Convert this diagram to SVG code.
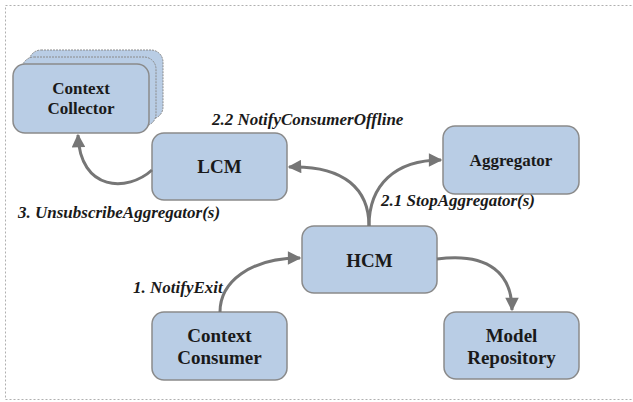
<svg xmlns="http://www.w3.org/2000/svg" width="633" height="402" viewBox="0 0 633 402">
<defs>
<style>
.box{fill:#b9cde5;stroke:#8a8a8a;stroke-width:1.5}
.back{fill:#b9cde5;stroke:#8a8a8a;stroke-width:1;stroke-dasharray:2 1}
.t{font-family:"Liberation Serif","Times New Roman",serif;font-weight:bold;fill:#1a1a1a;text-anchor:middle}
.lbl{font-family:"Liberation Serif","Times New Roman",serif;font-weight:bold;font-style:italic;font-size:17px;fill:#1a1a1a}
.c{fill:none;stroke:#767676;stroke-width:3}
</style>
<marker id="ah" viewBox="0 0 10 10" refX="9" refY="5" markerWidth="5" markerHeight="4.5" orient="auto" markerUnits="strokeWidth">
<path d="M0,0 L10,5 L0,10 z" fill="#767676"/>
</marker>
</defs>
<rect x="0" y="0" width="633" height="402" fill="#ffffff"/>
<rect x="5.5" y="5.5" width="640" height="394" fill="none" stroke="#b0b0b0" stroke-width="1" stroke-dasharray="2 2"/>

<g id="context-collector">
<rect class="back" x="29" y="50" width="134" height="69" rx="12"/>
<rect class="back" x="22" y="57" width="134" height="69" rx="12"/>
<rect class="box" x="13" y="64" width="136" height="69" rx="12"/>
<text class="t" x="81" y="94" font-size="17">Context</text>
<text class="t" x="81" y="114" font-size="17">Collector</text>
</g>
<g id="lcm">
<rect class="box" x="152" y="133" width="135" height="67" rx="12"/>
<text class="t" x="219.5" y="173" font-size="19">LCM</text>
</g>
<g id="aggregator">
<rect class="box" x="443" y="126" width="136" height="68" rx="12"/>
<text class="t" x="511" y="166" font-size="17">Aggregator</text>
</g>
<g id="hcm">
<rect class="box" x="302" y="226" width="135" height="67" rx="12"/>
<text class="t" x="369.5" y="267" font-size="19">HCM</text>
</g>
<g id="context-consumer">
<rect class="box" x="152" y="312" width="135" height="68" rx="12"/>
<text class="t" x="219.5" y="342" font-size="19">Context</text>
<text class="t" x="219.5" y="364" font-size="19">Consumer</text>
</g>
<g id="model-repository">
<rect class="box" x="444" y="312" width="135" height="67" rx="12"/>
<text class="t" x="511.5" y="342" font-size="19">Model</text>
<text class="t" x="511.5" y="364" font-size="19">Repository</text>
</g>

<g id="connectors">
<path class="c" d="M220,312 C220,282 250,258 300,258" marker-end="url(#ah)"/>
<path class="c" d="M369,226 C369,190 345,165 289,167" marker-end="url(#ah)"/>
<path class="c" d="M369,226 C369,185 395,160 441,160" marker-end="url(#ah)"/>
<path class="c" d="M152,170 C128,192 80,192 78,135" marker-end="url(#ah)"/>
<path class="c" d="M437,259 C490,252 512,275 512,310" marker-end="url(#ah)"/>
</g>

<g id="labels">
<text class="lbl" x="212" y="125">2.2 NotifyConsumerOffline</text>
<text class="lbl" x="18" y="218">3. UnsubscribeAggregator(s)</text>
<text class="lbl" x="381" y="206">2.1 StopAggregator(s)</text>
<text class="lbl" x="133" y="293">1. NotifyExit</text>
</g>
</svg>
